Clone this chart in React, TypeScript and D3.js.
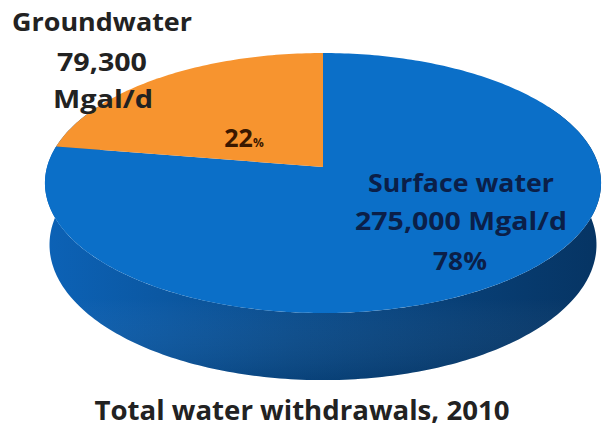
import React from "react";
import * as d3 from "d3";

// water withdrawals 2010, Mgal/d
const categories = ["Surface water", "Groundwater"];
const withdrawals = [275000, 79300];
const title = "Total water withdrawals, 2010";

const W = 605;
const H = 428;

// simple perspective camera for the 3D disc
const tilt = Math.asin(0.464);
const sinT = Math.sin(tilt);
const cosT = Math.cos(tilt);
const camDist = 7.19;
const focal = 1984;
const cx = 323;
const cy = 167;
const thick = 0.255;

const project = (a: number, y: number, r = 1): [number, number] => {
  const x = r * Math.sin(a);
  const z = -r * Math.cos(a);
  const depth = camDist - y * sinT - z * cosT;
  const up = y * cosT - z * sinT;
  return [cx + (focal * x) / depth, cy - (focal * up) / depth];
};

const line = d3.line();

export default function App() {
  const pie = d3.pie<number>().sort(null).value((d) => d);
  const arcs = pie(withdrawals);
  const total = d3.sum(withdrawals);
  const pct = d3.format(".0%");
  const fmt = d3.format(",");

  const colors = ["#0b6fc8", "#f7942f"];

  // top face slices
  const slicePath = (a0: number, a1: number) => {
    const n = Math.max(4, Math.ceil(((a1 - a0) / (2 * Math.PI)) * 360));
    const pts: [number, number][] = [project(0, 0, 0)];
    for (let i = 0; i <= n; i++) pts.push(project(a0 + ((a1 - a0) * i) / n, 0));
    return line(pts) + "Z";
  };

  // side wall, front half only (the top face hides the rest)
  const steps = d3.range(Math.PI / 3, (5 * Math.PI) / 3 + 0.001, Math.PI / 180);
  const sidePts = [
    ...steps.map((a) => project(a, 0)),
    ...steps.slice().reverse().map((a) => project(a, -thick)),
  ];
  const sidePath = line(sidePts) + "Z";

  const font = "'Open Sans', 'Noto Sans', sans-serif";
  const ground = withdrawals[1];
  const surface = withdrawals[0];

  return (
    <svg width={W} height={H} style={{ position: "absolute", left: 0, top: 0, background: "#fff" }}>
      <defs>
        <linearGradient id="side" x1="0" x2="1" y1="0" y2="0">
          <stop offset="0" stopColor="#0c62b6" />
          <stop offset="0.45" stopColor="#0a4c8c" />
          <stop offset="1" stopColor="#063463" />
        </linearGradient>
        <linearGradient id="sideShade" x1="0" x2="0" y1="0" y2="1">
          <stop offset="0" stopColor="#fff" stopOpacity={0} />
          <stop offset="0.7" stopColor="#fff" stopOpacity={0} />
          <stop offset="1" stopColor="#000" stopOpacity={0.12} />
        </linearGradient>
      </defs>
      <path d={sidePath} fill="url(#side)" />
      <path d={sidePath} fill="url(#sideShade)" />
      <g>
        {arcs.map((a, i) => (
          <path key={i} d={slicePath(a.startAngle, a.endAngle)} fill={colors[i]} />
        ))}
      </g>

      <g fontFamily={font} fontWeight={700} textAnchor="middle">
        <text x={102} y={31} fontSize={25} fill="#222" textLength={180} lengthAdjust="spacingAndGlyphs">
          {categories[1]}
        </text>
        <text x={102} y={71} fontSize={25} fill="#222" textLength={90} lengthAdjust="spacingAndGlyphs">
          {fmt(ground)}
        </text>
        <text x={103} y={108} fontSize={25} fill="#222" textLength={100} lengthAdjust="spacingAndGlyphs">
          Mgal/d
        </text>
        <text x={244} y={147} fill="#3a1800" textAnchor="middle">
          <tspan fontSize={25}>{pct(ground / total).replace("%", "")}</tspan>
          <tspan fontSize={12}>%</tspan>
        </text>

        <text x={461} y={192} fontSize={25} fill="#0b1f48" textLength={186} lengthAdjust="spacingAndGlyphs">
          {categories[0]}
        </text>
        <text x={461} y={230} fontSize={25} fill="#0b1f48" textLength={212} lengthAdjust="spacingAndGlyphs">
          {fmt(surface) + " Mgal/d"}
        </text>
        <text x={460} y={270} fontSize={25} fill="#0b1f48" textLength={54} lengthAdjust="spacingAndGlyphs">
          {pct(surface / total)}
        </text>

        <text x={302} y={420} fontSize={26} fill="#222" textLength={415} lengthAdjust="spacingAndGlyphs">
          {title}
        </text>
      </g>
    </svg>
  );
}
